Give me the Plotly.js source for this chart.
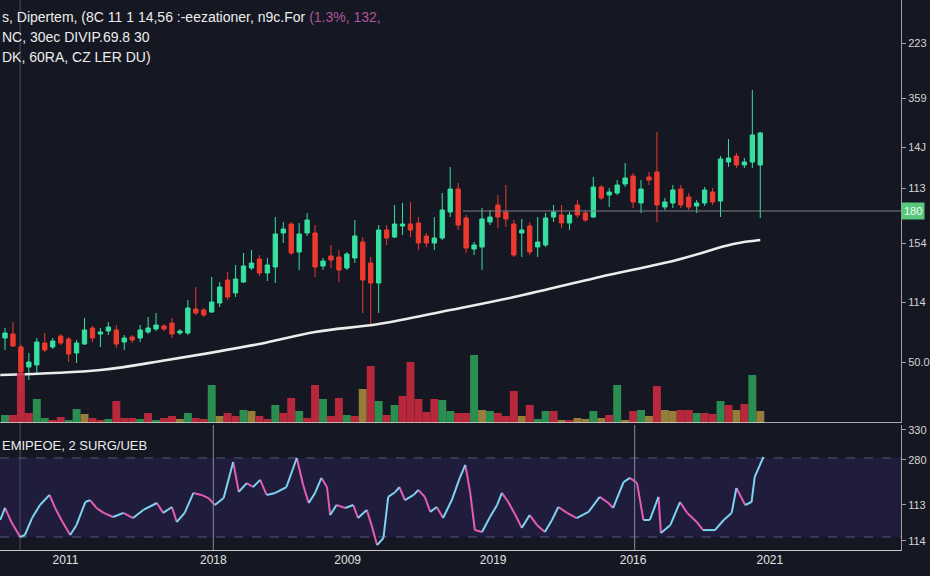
<!DOCTYPE html>
<html><head><meta charset="utf-8">
<script src="https://cdn.plot.ly/plotly-3.0.1.min.js"></script>
<style>html,body{margin:0;padding:0;background:#151822;}#chart{width:930px;height:576px;}</style>
</head><body><div id="chart"></div>
<script>
// ---- price candles (index, open, high, low, close) ----
const candleOpen  = [85,89,76,56,58,80,76,87,84,70,79,95,89,92,93,81,86,85,91,94,97,100,90,90,114,113,111,120,143,130,141,155,164,150,156,190,199,171,190,190,157,167,166,155,165,181,160,140,193,186,197,199,200,187,180,185,211,234,205,174,176,201,218,211,199,190,197,176,178,206,208,200,218,210,206,236,228,230,239,247,220,246,251,216,220,234,226,217,220,231,222,261,267,258,261,258];
const candleHigh  = [95,101,78,70,85,90,85,89,86,83,105,97,95,101,98,88,88,98,106,110,99,105,94,123,136,115,146,141,151,158,170,173,168,165,206,201,201,200,210,198,165,178,173,171,203,186,166,198,198,218,220,221,206,190,206,230,256,240,208,181,215,213,228,238,203,204,201,206,210,218,218,211,223,213,246,238,235,243,260,250,243,251,291,225,238,238,230,223,236,235,267,284,270,265,333,291];
const candleLow   = [73,76,28,43,50,71,74,78,61,60,78,81,76,88,75,73,80,81,89,92,92,85,88,88,108,106,110,116,123,126,140,153,147,142,140,180,168,153,187,146,153,155,141,153,160,110,98,110,178,185,188,186,173,176,173,183,206,193,170,168,153,198,195,196,166,166,168,166,176,201,195,193,205,201,205,223,216,228,236,215,210,238,201,213,215,215,213,210,217,218,206,256,255,255,255,205];
const candleClose = [90,77,51,61,81,73,82,80,69,80,93,85,91,96,79,85,83,93,95,98,94,89,92,115,110,108,121,136,126,144,157,160,150,158,189,194,170,189,203,156,162,163,153,169,187,143,140,193,185,199,199,193,180,180,185,213,234,198,175,178,204,206,206,204,168,193,171,181,205,211,200,208,208,203,236,225,231,238,245,221,234,243,218,221,233,218,216,220,233,221,264,265,258,261,288,290];

// ---- volume (value and bar colour kind: g = up, r = down, o = neutral) ----
const volume = [80,80,500,100,240,50,30,60,30,140,90,50,30,40,220,50,50,40,100,30,50,70,40,100,50,40,380,70,100,70,130,120,70,40,180,100,250,120,50,380,240,70,250,80,70,340,570,220,80,180,270,610,240,110,240,230,120,100,100,680,130,120,100,70,320,70,180,40,120,120,30,30,50,40,120,50,80,380,30,120,130,70,370,130,120,130,130,100,100,90,220,180,130,190,480,120];
const volumeKind = ["g","r","r","r","g","g","r","r","g","g",
                    "o","r","r","g","r","r","r","g","r","g",
                    "r","r","o","g","r","r","g","o","r","r",
                    "g","o","r","r","g","r","r","g","r","r",
                    "g","r","r","g","r","o","r","g","r","g",
                    "r","r","r","r","r","g","g","r","r","g",
                    "o","g","r","r","r","o","r","g","g","r",
                    "o","r","o","o","g","o","r","g","o","r",
                    "g","o","r","o","o","r","r","g","r","r",
                    "g","r","o","r","g","o"];

// ---- moving average ----
const maX = [-0.6,12,20.4,32,39,47,56,63.5,74.8,84.5,91.6,95];
const maValue = [48,53,63,79,91,99,113,125,146,163,179,183];

// ---- oscillator (lower panel) ----
const oscX = [-0.6,0,0.8,1.9,2.5,3.4,4.4,5.6,6.3,7.1,8.2,9.0,10.1,10.7,11.5,12.4,13.6,14.9,16.1,17.4,19.1,19.9,21.0,21.6,22.6,23.7,24.7,25.6,26.4,27.5,28.7,29.4,30.4,31.2,32.1,32.9,34.0,35.4,36.7,37.5,38.2,39.0,39.8,40.5,40.9,41.7,42.8,43.8,44.4,45.5,46.1,46.8,47.6,48.2,49.1,49.6,50.3,51.4,52.0,52.8,53.5,54.3,55.1,56.2,57.2,57.9,58.5,59.1,60.0,61.0,61.9,62.5,63.3,64.2,65.0,66.0,66.9,67.9,68.8,69.6,70.7,71.9,73.4,74.8,75.9,76.5,77.8,78.6,79.5,80.3,81.1,82.2,82.5,83.7,84.9,85.8,87.0,87.8,89.3,90.4,91.4,92.0,93.1,93.9,94.3,95.4];
const oscValue = [38.6,44.7,37.6,30.0,31.0,39.6,46.2,51.3,44.7,38.6,31.0,36.1,47.7,48.7,44.7,42.2,40.1,42.2,39.6,43.7,47.2,42.2,45.2,37.6,42.2,52.3,51.3,49.7,46.2,49.7,68.0,52.8,57.3,55.3,58.9,51.3,52.3,55.3,70.0,56.3,47.2,52.3,59.9,55.3,41.1,46.2,44.7,46.2,39.6,43.7,36.1,25.9,29.5,50.3,52.8,55.3,48.7,51.3,53.8,50.3,42.7,45.2,39.6,48.7,59.9,66.5,52.8,33.5,32.5,40.1,46.2,52.3,47.7,41.1,34.6,41.1,36.1,32.5,38.6,45.2,42.2,39.6,42.7,50.3,47.2,44.7,57.8,59.9,57.3,38.6,38.6,50.3,32.0,36.1,47.7,42.2,37.6,33.5,33.5,38.6,42.2,54.8,46.2,47.7,60.4,70.5];

// ---- axis tick labels ----
const xTickPos = [7.6,26.2,43.1,61.4,79.0,96.2];
const xTickText = ["2011","2018","2009","2019","2016","2021"];
const priceTickPos = [380,325,276,235,180,121,61];
const priceTickText = ["223","359","14J","113","154","114","50.0"];
const oscTickPos = [84.2,69.0,46.2,28.0];
const oscTickText = ["330","280","113","114"];
const priceLineValue = 212;
const priceLineLabel = "180";
const oscUpper = 70, oscLower = 30;

const idx = candleOpen.map((_, i) => i);
const kindColor = {g:"#2e9b57", r:"#c92a3f", o:"#a38a3c"};

// oscillator coloured by direction
const upX=[],upY=[],dnX=[],dnY=[];
for(let i=0;i<oscX.length-1;i++){
  const rising = oscValue[i+1] >= oscValue[i];
  const tx = rising?upX:dnX, ty = rising?upY:dnY;
  tx.push(oscX[i],oscX[i+1],null); ty.push(oscValue[i],oscValue[i+1],null);
}

const traces = [
  {type:"bar", x:idx, y:volume, yaxis:"y3", xaxis:"x",
   marker:{color:volumeKind.map(k=>kindColor[k]), line:{width:0}}, opacity:0.9, width:1, hoverinfo:"skip", showlegend:false},
  {type:"scatter", mode:"lines", x:maX, y:maValue, xaxis:"x", yaxis:"y",
   line:{color:"#ececec", width:2.6, shape:"spline", smoothing:1}, showlegend:false, hoverinfo:"skip"},
  {type:"candlestick", x:idx, open:candleOpen, high:candleHigh, low:candleLow, close:candleClose,
   xaxis:"x", yaxis:"y",
   increasing:{line:{color:"#36e0a0", width:1}, fillcolor:"#36e0a0"},
   decreasing:{line:{color:"#ee3a2e", width:1}, fillcolor:"#ee3a2e"},
   whiskerwidth:0, showlegend:false, hoverinfo:"skip"},
  {type:"scatter", mode:"lines", x:dnX, y:dnY, xaxis:"x", yaxis:"y2",
   line:{color:"#e45cb6", width:2}, showlegend:false, hoverinfo:"skip", connectgaps:false},
  {type:"scatter", mode:"lines", x:upX, y:upY, xaxis:"x", yaxis:"y2",
   line:{color:"#7cd4f0", width:2}, showlegend:false, hoverinfo:"skip", connectgaps:false}
];

const mainBottom = 128/551, oscTop = 126/551;
const xr = [-0.63, 112.7];
const layout = {
  width:930, height:576,
  margin:{l:0, r:29, t:0, b:25},
  paper_bgcolor:"#151822", plot_bgcolor:"#151822",
  font:{family:"Liberation Sans, Arial, sans-serif", color:"#e6e6e6"},
  showlegend:false,
  boxgap:0.22,
  xaxis:{range:xr, anchor:"y2", showgrid:false, zeroline:false, showline:false,
         tickvals:xTickPos, ticktext:xTickText, ticks:"",
         tickfont:{size:12, color:"#e2e2e2"}, rangeslider:{visible:false}, fixedrange:true},
  yaxis:{domain:[mainBottom,1], range:[0,423], side:"right", anchor:"x",
         showgrid:false, zeroline:false, showline:true, linecolor:"#a0a0a0", linewidth:1,
         ticks:"outside", ticklen:4, tickcolor:"#a0a0a0",
         tickvals:priceTickPos, ticktext:priceTickText, tickfont:{size:11, color:"#d4d4d4"}},
  yaxis3:{overlaying:"y", range:[0,4230], visible:false},
  yaxis2:{domain:[0,oscTop], range:[22.9,86.7], side:"right", anchor:"x",
          showgrid:false, zeroline:false, showline:true, linecolor:"#a0a0a0", linewidth:1,
          ticks:"outside", ticklen:4, tickcolor:"#a0a0a0",
          tickvals:oscTickPos, ticktext:oscTickText, tickfont:{size:11, color:"#d4d4d4"}},
  shapes:[
    {type:"rect", xref:"paper", yref:"y2", x0:0, x1:1, y0:oscLower, y1:oscUpper, fillcolor:"#1f1c3c", line:{width:0}, layer:"below"},
    {type:"line", xref:"paper", yref:"y2", x0:0, x1:1, y0:oscUpper, y1:oscUpper, line:{color:"#5a5680", width:1, dash:"dash"}, layer:"below"},
    {type:"line", xref:"paper", yref:"y2", x0:0, x1:1, y0:oscLower, y1:oscLower, line:{color:"#5a5680", width:1, dash:"dash"}, layer:"below"},
    {type:"line", xref:"x", yref:"paper", x0:1.9, x1:1.9, y0:0, y1:1, line:{color:"#4a4e5c", width:1}, layer:"below"},
    {type:"line", xref:"x", yref:"y2", x0:26.2, x1:26.2, y0:22.9, y1:86.7, line:{color:"#8c8c96", width:1}},
    {type:"line", xref:"x", yref:"y2", x0:79.2, x1:79.2, y0:22.9, y1:86.7, line:{color:"#8c8c96", width:1}},
    {type:"line", xref:"x", yref:"y", x0:57.6, x1:xr[1], y0:priceLineValue, y1:priceLineValue, line:{color:"#7d7f86", width:1}},
    {type:"line", xref:"paper", yref:"y", x0:0, x1:1, y0:0, y1:0, line:{color:"#dcdcdc", width:1.6}},
    {type:"line", xref:"paper", yref:"y2", x0:0, x1:1, y0:22.9, y1:22.9, line:{color:"#c8c8c8", width:2}}
  ],
  annotations:[
    {xref:"paper", yref:"paper", x:0, y:(551-17)/551, xanchor:"left", yanchor:"middle", showarrow:false,
     text:'s, Dipertem, (8C 11 1 14,56 :-eezationer, n9c.For <span style="color:#b0559c">(1.3%, 132,</span>',
     font:{size:14, color:"#ececec"}},
    {xref:"paper", yref:"paper", x:0, y:(551-37)/551, xanchor:"left", yanchor:"middle", showarrow:false,
     text:"NC, 30ec DIVIP.69.8 30", font:{size:14, color:"#ececec"}},
    {xref:"paper", yref:"paper", x:0, y:(551-57)/551, xanchor:"left", yanchor:"middle", showarrow:false,
     text:"DK, 60RA, CZ LER DU)", font:{size:14, color:"#ececec"}},
    {xref:"paper", yref:"paper", x:0, y:(551-445)/551, xanchor:"left", yanchor:"middle", showarrow:false,
     text:"EMIPEOE, 2 SURG/UEB", font:{size:13, color:"#ececec"}},
    {xref:"paper", yref:"y", x:1, y:priceLineValue, xanchor:"left", yanchor:"middle", showarrow:false,
     text:priceLineLabel, bgcolor:"#58c87c", borderpad:2, font:{size:11, color:"#f4fff6"}}
  ]
};
Plotly.newPlot("chart", traces, layout, {displayModeBar:false, staticPlot:true});
</script></body></html>
